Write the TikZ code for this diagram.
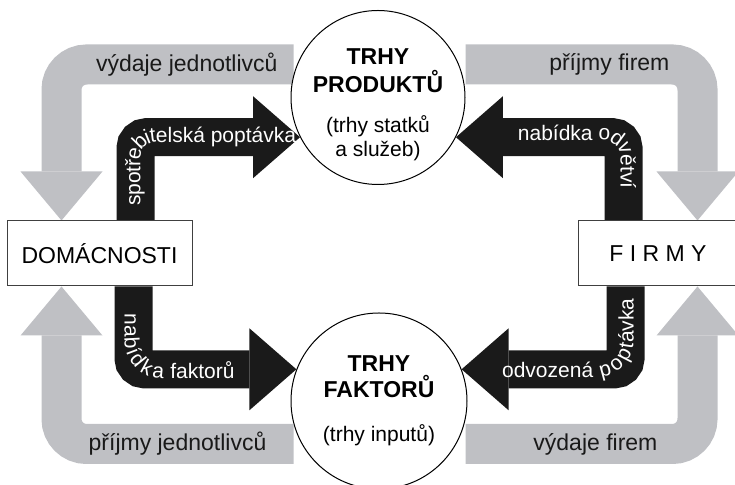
\documentclass[tikz,border=0pt]{standalone}
\usepackage{fontspec}
\setmainfont{Liberation Sans}
\usepackage{tikz}
\usetikzlibrary{calc,arrows.meta,backgrounds,decorations.text}
\definecolor{flowgray}{RGB}{191,192,196}
\definecolor{flowblack}{RGB}{26,26,26}
\newcommand{\grayband}{20pt}
\newcommand{\darkband}{19pt}
\newcommand{\bandfont}{\fontsize{11.5}{13}\selectfont}
\newcommand{\darkfont}{\fontsize{10.5}{12}\selectfont}
\newcommand{\marketfont}{\bfseries\fontsize{11.5}{12}\selectfont}

\begin{document}
\begin{tikzpicture}[x=0.5pt,y=-0.5pt,
  market/.style={circle,draw,line width=0.5pt,fill=white,inner sep=0pt},
  marketlabel/.style={align=center,font=\darkfont,inner sep=0pt},
  sector/.style={rectangle,draw=black!75,line width=0.5pt,fill=white,minimum width=92.5pt,minimum height=32.5pt,font=\bandfont},
  grayflow/.style={draw=flowgray,line width=\grayband,rounded corners=12.5pt,-{Triangle[length=24.5pt,width=41pt,line width=0pt]}},
  darkflow/.style={draw=flowblack,line width=\darkband,rounded corners=5.5pt,-{Triangle[length=23.5pt,width=41pt,line width=0pt]}},
  graylabel/.style={font=\bandfont,text=black!90},
  darklabel/.style={rounded corners=10pt,decorate,decoration={text along path,text color=white,raise=-2.5pt}}
]
\useasboundingbox (0,0) rectangle (735,485);
%markets
\node[market,minimum size=87pt,label={[marketlabel,yshift=-3.5pt]center:{\marketfont TRHY\\[2pt]\marketfont PRODUKTŮ\\[8pt](trhy statků\\a služeb)}}] (produkty) at (378,97.5) {};
\node[market,minimum size=88pt,label={[marketlabel]center:{\marketfont TRHY\\[1pt]\marketfont FAKTORŮ\\[10pt](trhy inputů)}}] (faktory) at (379,401) {};
%sectors
\node[sector] (domacnosti) at (99.5,253.5) {DOMÁCNOSTI};
\node[sector,minimum width=80pt] (firmy) at (658,253.5) {F I R M Y};
%money flows
\begin{scope}[on background layer]
\draw[grayflow] ($(produkty.west)+(3,-33)$) -| ($(domacnosti.north)+(-38,0)$) node[graylabel,pos=0.23] {výdaje jednotlivců};
\draw[grayflow] ($(produkty.east)+(0,-33)$) -| ($(firmy.north)+(39.5,0)$) node[graylabel,pos=0.31] {příjmy firem};
\draw[grayflow] ($(faktory.west)+(3,43)$) -| ($(domacnosti.south)+(-38,0)$) node[graylabel,pos=0.25] {příjmy jednotlivců};
\draw[grayflow] ($(faktory.east)+(-2,43)$) -| ($(firmy.south)+(39.5,0)$) node[graylabel,pos=0.28] {výdaje firem};
\end{scope}
%real flows
\begin{scope}[on background layer]
\draw[darkflow] ($(domacnosti.north)+(36,0)$) |- (produkty.207);
\draw[darkflow] ($(domacnosti.south)+(34,0)$) |- (faktory.159);
\draw[darkflow] ($(firmy.north)+(-34.5,0)$) |- (produkty.333);
\draw[darkflow] ($(firmy.south)+(-32.5,0)$) |- (faktory.21);
\path[darklabel,decoration={text={|\darkfont|spotřebitelská poptávka},text align={right,right indent=2pt}}] ($(domacnosti.north)+(36,0)$) |- (produkty.207);
\path[darklabel,rounded corners=14pt,decoration={text={|\darkfont|nabídka faktorů},text align={left,left indent=13.5pt},raise=-4.5pt}] ($(domacnosti.south)+(34,0)$) |- (faktory.159);
\path[darklabel,decoration={text={|\darkfont|nabídka odvětví},text align={right,right indent=16pt},raise=-1.5pt}] (produkty.333) -| ($(firmy.north)+(-34.5,0)$);
\path[darklabel,rounded corners=14pt,decoration={text={|\darkfont|odvozená poptávka},text align={right,right indent=6pt},raise=-4pt}] (faktory.21) -| ($(firmy.south)+(-32.5,0)$);
\end{scope}
\end{tikzpicture}
\end{document}
